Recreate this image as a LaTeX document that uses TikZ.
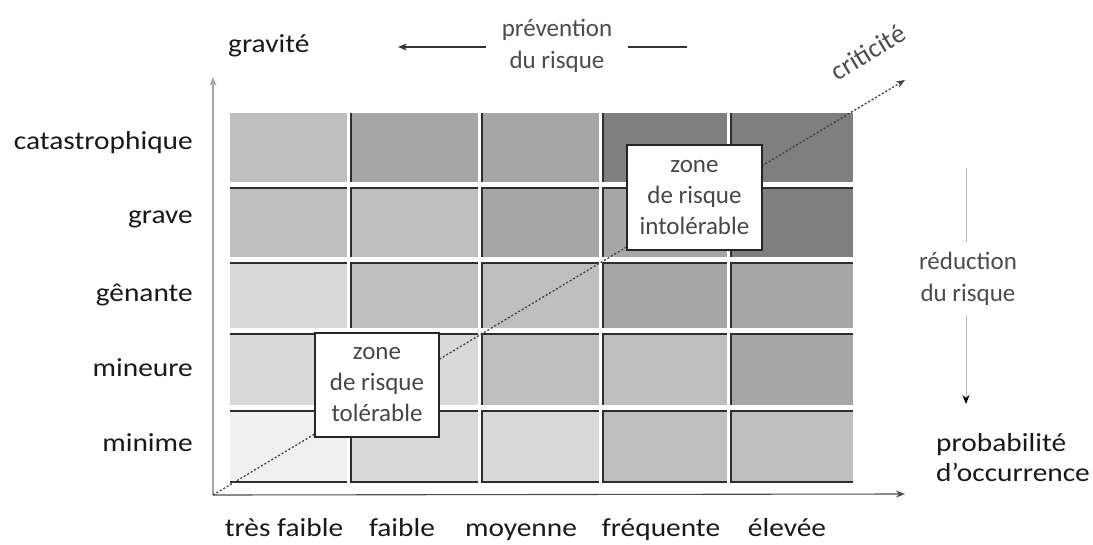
\documentclass[tikz,border=0pt]{standalone}
\usepackage{fontspec}
\setmainfont{Carlito}
\newfontfamily\widefont{Carlito}[FakeStretch=1.13]
\usetikzlibrary{arrows.meta}

% shades of the risk levels, lightest to darkest
\definecolor{lv1}{HTML}{F0F0F0}
\definecolor{lv2}{HTML}{D9D9D9}
\definecolor{lv3}{HTML}{BFBFBF}
\definecolor{lv4}{HTML}{A6A6A6}
\definecolor{lv5}{HTML}{7F7F7F}

% column and row boundaries of the matrix
\def\colx{{230,350,481,602,730,853}}
\def\rowy{{113,187,262,333,410,483}}
% level of each cell, row by row (catastrophique ... minime)
\def\lev{{3,4,4,5,5, 3,3,4,4,5, 2,3,3,4,4, 2,2,3,3,4, 1,2,2,3,3}}

\begin{document}
\begin{tikzpicture}[x=1pt,y=-1pt,
  rule/.style={draw=black!82,line width=2pt},
  mainlabel/.style={font=\widefont\fontsize{26}{30}\selectfont,text=black!90,inner sep=0pt},
  sidelabel/.style={font=\fontsize{25}{32}\selectfont,text=black!70,inner sep=0pt,align=center},
  zonebox/.style={draw=black!85,line width=1.3pt,fill=white,inner sep=0pt,align=center,
    font=\fontsize{25}{31}\selectfont,text=black!72},
  tip/.style={-{Stealth[length=9pt,width=7pt]}},
  axisline/.style={line width=1.1pt},
  diag/.style={draw=black!75,line width=1.3pt,dash pattern=on 2pt off 2pt}
]
\useasboundingbox (0,0) rectangle (1093,544);
\fill[white] (0,0) rectangle (1093,544);

% matrix cells with white gaps and dark rules on their upper and left edges
\foreach \j in {0,...,4}{
  \foreach \i in {0,...,4}{
    \pgfmathsetmacro\xa{\colx[\i]}
    \pgfmathsetmacro\xb{\colx[\i+1]-((\i<4)?3:0)}
    \pgfmathsetmacro\ya{\rowy[\j]}
    \pgfmathsetmacro\yb{\rowy[\j+1]-((\j<4)?5:0)}
    \pgfmathtruncatemacro\L{\lev[\j*5+\i]}
    \fill[lv\L] (\xa,\ya) rectangle (\xb,\yb);
    \ifnum\j>0 \draw[rule] (\xa,\ya+1) -- (\xb,\ya+1); \fi
    \ifnum\i>0 \draw[rule] (\xa+1,\ya) -- (\xa+1,\yb); \fi
    \ifnum\j=4 \draw[rule] (\xa,\yb-1) -- (\xb,\yb-1); \fi
  }
}

% axes
\coordinate (O) at (213,495);
\coordinate (ytip) at (213,77);
\coordinate (xtip) at (905,494);
\coordinate (ctip) at (905,80);
\draw[axisline,draw=black!35,tip] (O) -- (ytip);
\draw[axisline,draw=black!70,tip] (O) -- (xtip);

% criticality diagonal
\draw[diag,-{Stealth[length=9pt,width=7pt]}] (O) -- (ctip);
\node[sidelabel,font=\fontsize{27}{32}\selectfont,rotate=31] (crit) at (868,52) {criticité};

% zones
\node[zonebox,minimum width=135pt,minimum height=105pt] (intol) at (694.5,197.5)
  {zone\\de risque\\intolérable};
\node[zonebox,minimum width=124pt,minimum height=104pt] (tol) at (377,385)
  {zone\\de risque\\tolérable};

% severity labels
\node[mainlabel,anchor=base east] (s5) at (193,149) {catastrophique};
\node[mainlabel,anchor=base east] (s4) at (193,223) {grave};
\node[mainlabel,anchor=base east] (s3) at (193,301) {gênante};
\node[mainlabel,anchor=base east] (s2) at (193,376) {mineure};
\node[mainlabel,anchor=base east] (s1) at (193,451) {minime};
\node[mainlabel,anchor=base west] (gr) at (228,52) {gravité};

% probability labels
\node[mainlabel,anchor=base] (p1) at (284,536) {très faible};
\node[mainlabel,anchor=base] (p2) at (402,536) {faible};
\node[mainlabel,anchor=base] (p3) at (521,536) {moyenne};
\node[mainlabel,anchor=base] (p4) at (661,536) {fréquente};
\node[mainlabel,anchor=base] (p5) at (787,536) {élevée};
\node[mainlabel,anchor=base west,align=left] (prob) at (936,481) {probabilité\\d’occurrence};

% prevention arrow
\coordinate (pvA) at (687,47);
\coordinate (pvB) at (398,47);
\node[sidelabel,inner xsep=16pt] (pv) at (557,46) {prévention\\du risque};
\draw[line width=1.1pt,draw=black!80] (pvA) -- (pv.east |- pvA);
\draw[line width=1.1pt,draw=black!80,tip] (pv.west |- pvB) -- (pvB);

% reduction arrow
\coordinate (rdA) at (966,168);
\coordinate (rdB) at (966,404);
\node[sidelabel,inner ysep=10pt] (rd) at (968,279) {réduction\\du risque};
\draw[line width=1pt,draw=black!30] (rdA) -- (rdA |- rd.north);
\draw[line width=1pt,draw=black!30,-{Stealth[length=9pt,width=7pt,color=black]}] (rdA |- rd.south) -- (rdB);
\end{tikzpicture}
\end{document}
